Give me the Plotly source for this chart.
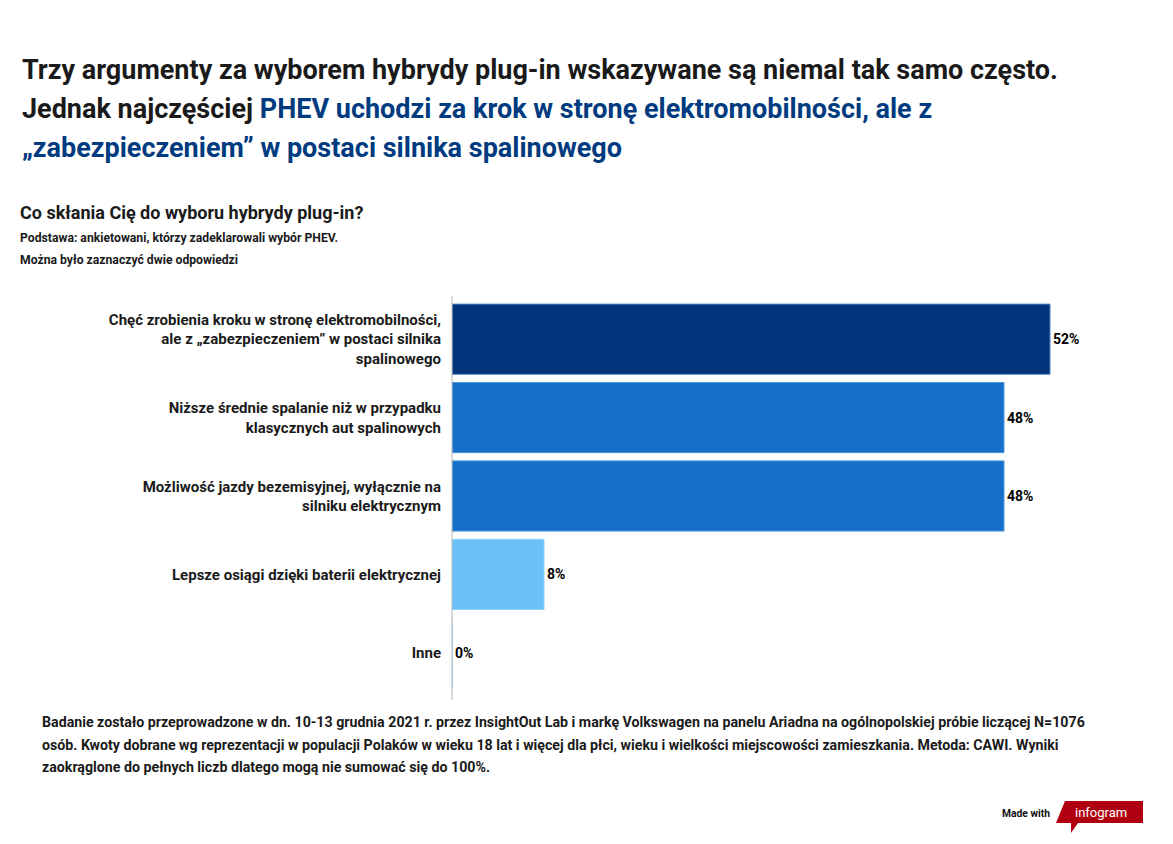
import plotly.graph_objects as go

# data
categories = [
    "Chęć zrobienia kroku w stronę elektromobilności,<br>ale z „zabezpieczeniem” w postaci silnika<br>spalinowego",
    "Niższe średnie spalanie niż w przypadku<br>klasycznych aut spalinowych",
    "Możliwość jazdy bezemisyjnej, wyłącznie na<br>silniku elektrycznym",
    "Lepsze osiągi dzięki baterii elektrycznej",
    "Inne",
]
values = [52, 48, 48, 8, 0]
value_labels = ["52%", "48%", "48%", "8%", "0%"]
bar_colors = ["#00337A", "#156FC8", "#156FC8", "#6BC0F7", "#6BC0F7"]
border_colors = ["#4a86c8", "#4a95dc", "#4a95dc", "#8ed0fa", "#8ed0fa"]

# the page puts the figure 8px in from the top-left corner
OFF = 8
W, H = 1173 - OFF, 844 - OFF
ML, MT = 452 - OFF, 300 - OFF
PW, PH = 690, 392
MR, MB = W - ML - PW, H - MT - PH

def px(x):
    return (x - OFF - ML) / PW

def py(y):
    return (H - MB - (y - OFF)) / PH

FONT = "Roboto, 'Noto Sans', sans-serif"
DARK = "#1a1a1a"
BLUE = "#003B80"

fig = go.Figure()
fig.add_trace(go.Bar(
    x=values, y=categories, orientation="h",
    marker=dict(color=bar_colors, line=dict(color=border_colors, width=1)),
    text=value_labels, textposition="outside", cliponaxis=False,
    textfont=dict(family=FONT, size=14, color="#000000", weight="bold"),
    hoverinfo="skip",
))

annots = []

def txt(x, y, s, size, color=DARK, weight="bold"):
    annots.append(dict(x=px(x), y=py(y), xref="paper", yref="paper", text=s,
                       showarrow=False, xanchor="left", yanchor="middle", align="left",
                       font=dict(family=FONT, size=size, color=color, weight=weight)))

txt(20, 70, "Trzy argumenty za wyborem hybrydy plug-in wskazywane są niemal tak samo często.", 27)
txt(20, 109, "Jednak najczęściej <span style='color:%s'>PHEV uchodzi za krok w stronę elektromobilności, ale z</span>" % BLUE, 27)
txt(20, 148, "„zabezpieczeniem” w postaci silnika spalinowego", 27, BLUE)
txt(18, 212, "Co skłania Cię do wyboru hybrydy plug-in?", 18)
txt(18, 238, "Podstawa: ankietowani, którzy zadeklarowali wybór PHEV.", 12.2)
txt(18, 260, "Można było zaznaczyć dwie odpowiedzi", 12.2)
txt(40, 722, "Badanie zostało przeprowadzone w dn. 10-13 grudnia 2021 r. przez InsightOut Lab i markę Volkswagen na panelu Ariadna na ogólnopolskiej próbie liczącej N=1076", 14.2)
txt(40, 745, "osób. Kwoty dobrane wg reprezentacji w populacji Polaków w wieku 18 lat i więcej dla płci, wieku i wielkości miejscowości zamieszkania. Metoda: CAWI. Wyniki", 14.2)
txt(40, 767, "zaokrąglone do pełnych liczb dlatego mogą nie sumować się do 100%.", 14.2)
txt(1000, 813, "Made with", 10.3, "#111111")
annots.append(dict(x=px(1101), y=py(812), xref="paper", yref="paper", text="infogram",
                   showarrow=False, xanchor="center", yanchor="middle",
                   font=dict(family=FONT, size=13, color="#ffffff")))

logo = "M %f %f L %f %f L %f %f L %f %f L %f %f L %f %f L %f %f Z" % (
    px(1065), py(801), px(1143), py(801), px(1143), py(823), px(1078), py(823),
    px(1071), py(833), px(1071), py(823), px(1056), py(823))

fig.update_layout(
    width=W, height=H,
    margin=dict(l=ML, r=MR, t=MT, b=MB),
    paper_bgcolor="#ffffff", plot_bgcolor="#ffffff",
    showlegend=False, bargap=0.105,
    xaxis=dict(range=[0, 60], visible=False, fixedrange=True),
    yaxis=dict(autorange="reversed", showgrid=False, zeroline=False, showline=False,
               ticks="", ticklabelstandoff=10,
               tickfont=dict(family=FONT, size=15, color=DARK, weight="bold")),
    annotations=annots,
    shapes=[
        dict(type="line", xref="paper", yref="paper", x0=0, x1=0, y0=py(296), y1=py(700),
             line=dict(color="#b5b5b5", width=1)),
        dict(type="path", xref="paper", yref="paper", path=logo,
             fillcolor="#B00010", line=dict(width=0)),
    ],
)

fig.write_html("out.html")
